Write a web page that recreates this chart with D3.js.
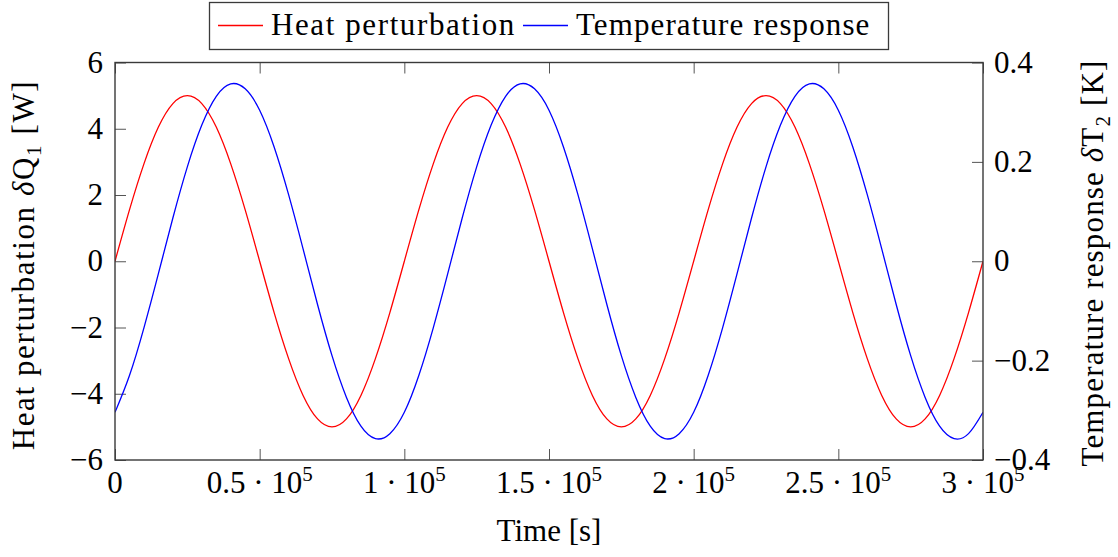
<!DOCTYPE html>
<html>
<head>
<meta charset="utf-8">
<script src="https://cdn.jsdelivr.net/npm/d3@7"></script>
<style>
  body { margin: 0; background: #fff; }
</style>
</head>
<body>
<div id="chart"></div>
<script>
// time samples [s]
const timeSec = [
  0, 5000, 10000, 15000, 20000, 25000, 30000, 35000, 40000, 45000,
  50000, 55000, 60000, 65000, 70000, 75000, 80000, 85000, 90000, 95000,
  100000, 105000, 110000, 115000, 120000, 125000, 130000, 135000, 140000, 145000,
  150000, 155000, 160000, 165000, 170000, 175000, 180000, 185000, 190000, 195000,
  200000, 205000, 210000, 215000, 220000, 225000, 230000, 235000, 240000, 245000,
  250000, 255000, 260000, 265000, 270000, 275000, 280000, 285000, 290000, 295000,
  300000
];

// heat perturbation dQ1 [W]
const heatW = [
  0, 1.55, 2.94, 4.05, 4.76, 5.00, 4.76, 4.05, 2.94, 1.55,
  0, -1.55, -2.94, -4.05, -4.76, -5.00, -4.76, -4.05, -2.94, -1.55,
  0, 1.55, 2.94, 4.05, 4.76, 5.00, 4.76, 4.05, 2.94, 1.55,
  0, -1.55, -2.94, -4.05, -4.76, -5.00, -4.76, -4.05, -2.94, -1.55,
  0, 1.55, 2.94, 4.05, 4.76, 5.00, 4.76, 4.05, 2.94, 1.55,
  0, -1.55, -2.94, -4.05, -4.76, -5.00, -4.76, -4.05, -2.94, -1.55,
  0
];

// temperature response dT2 [K]
const tempK = [
  -0.304, -0.230, -0.134, -0.025, 0.087, 0.190, 0.274, 0.332, 0.357, 0.347,
  0.304, 0.230, 0.134, 0.025, -0.087, -0.190, -0.274, -0.332, -0.357, -0.347,
  -0.304, -0.230, -0.134, -0.025, 0.087, 0.190, 0.274, 0.332, 0.357, 0.347,
  0.304, 0.230, 0.134, 0.025, -0.087, -0.190, -0.274, -0.332, -0.357, -0.347,
  -0.304, -0.230, -0.134, -0.025, 0.087, 0.190, 0.274, 0.332, 0.357, 0.347,
  0.304, 0.230, 0.134, 0.025, -0.087, -0.190, -0.274, -0.332, -0.357, -0.347,
  -0.304
];

const xTicks = [0, 50000, 100000, 150000, 200000, 250000, 300000];
const xTickMant = ["0", "0.5", "1", "1.5", "2", "2.5", "3"];
const leftTicks = [-6, -4, -2, 0, 2, 4, 6];
const rightTicks = [-0.4, -0.2, 0, 0.2, 0.4];
const seriesNames = ["Heat perturbation", "Temperature response"];

const width = 1118;
const height = 557;
const margin = { top: 62.5, right: 135, bottom: 97, left: 115 };
const innerW = width - margin.left - margin.right;
const innerH = height - margin.top - margin.bottom;
const fontSize = 31;
const fontFamily = "'Liberation Serif', 'DejaVu Serif', serif";
const frameColor = "#3a3a3a";

const svg = d3.select("#chart")
  .append("svg")
  .attr("width", width)
  .attr("height", height)
  .attr("font-family", fontFamily);

const x = d3.scaleLinear().domain([0, 300000]).range([margin.left, margin.left + innerW]);
const yL = d3.scaleLinear().domain([-6, 6]).range([margin.top + innerH, margin.top]);
const yR = d3.scaleLinear().domain([-0.4, 0.4]).range([margin.top + innerH, margin.top]);

// ticks (inward), drawn with d3 axes
const tickLen = 11;
function styleAxis(g) {
  g.select(".domain").remove();
  g.selectAll(".tick line").attr("stroke", "#555").attr("stroke-width", 1);
  g.selectAll(".tick text").remove();
}

svg.append("g")
  .attr("transform", `translate(0,${margin.top + innerH})`)
  .call(d3.axisBottom(x).tickValues(xTicks).tickSizeInner(-tickLen).tickSizeOuter(0))
  .call(styleAxis);
svg.append("g")
  .attr("transform", `translate(0,${margin.top})`)
  .call(d3.axisTop(x).tickValues(xTicks).tickSizeInner(-tickLen).tickSizeOuter(0))
  .call(styleAxis);
svg.append("g")
  .attr("transform", `translate(${margin.left},0)`)
  .call(d3.axisLeft(yL).tickValues(leftTicks).tickSizeInner(-tickLen).tickSizeOuter(0))
  .call(styleAxis);
svg.append("g")
  .attr("transform", `translate(${margin.left + innerW},0)`)
  .call(d3.axisRight(yR).tickValues(rightTicks).tickSizeInner(-tickLen).tickSizeOuter(0))
  .call(styleAxis);

// clip for curves
svg.append("clipPath").attr("id", "plotclip")
  .append("rect")
  .attr("x", margin.left).attr("y", margin.top)
  .attr("width", innerW).attr("height", innerH);

const redLine = d3.line()
  .x((d, i) => x(timeSec[i]))
  .y(d => yL(d))
  .curve(d3.curveNatural);
const blueLine = d3.line()
  .x((d, i) => x(timeSec[i]))
  .y(d => yR(d))
  .curve(d3.curveNatural);

const plot = svg.append("g").attr("clip-path", "url(#plotclip)");
plot.append("path").datum(heatW)
  .attr("d", redLine).attr("fill", "none")
  .attr("stroke", "#ff0000").attr("stroke-width", 1.3);
plot.append("path").datum(tempK)
  .attr("d", blueLine).attr("fill", "none")
  .attr("stroke", "#0000ff").attr("stroke-width", 1.3);

// frame
svg.append("rect")
  .attr("x", margin.left).attr("y", margin.top)
  .attr("width", innerW).attr("height", innerH)
  .attr("fill", "none").attr("stroke", frameColor).attr("stroke-width", 1.4);

function addText(sel) {
  return sel.append("text")
    .attr("font-family", fontFamily)
    .attr("font-size", fontSize)
    .attr("fill", "#000");
}

// x tick labels  m · 10^5
xTicks.forEach((t, i) => {
  const txt = addText(svg)
    .attr("x", x(t)).attr("y", margin.top + innerH + 33)
    .attr("text-anchor", "middle");
  if (t === 0) {
    txt.text("0");
  } else {
    txt.append("tspan").text(xTickMant[i] + " · 10");
    txt.append("tspan").attr("dy", -12).attr("font-size", 21).text("5");
  }
});

// left tick labels
leftTicks.forEach(v => {
  addText(svg)
    .attr("x", margin.left - 12).attr("y", yL(v) + 10)
    .attr("text-anchor", "end")
    .text(v < 0 ? "\u2212" + Math.abs(v) : String(v));
});

// right tick labels
rightTicks.forEach(v => {
  addText(svg)
    .attr("x", margin.left + innerW + 11).attr("y", yR(v) + 10)
    .attr("text-anchor", "start")
    .text(v < 0 ? "\u2212" + Math.abs(v) : String(v));
});

// axis labels
addText(svg)
  .attr("x", margin.left + innerW / 2).attr("y", 541)
  .attr("text-anchor", "middle")
  .text("Time [s]");

const yLab = addText(svg)
  .attr("transform", "translate(34,265) rotate(-90)")
  .attr("text-anchor", "middle")
  .attr("letter-spacing", 1.6);
yLab.append("tspan").text("Heat perturbation ");
yLab.append("tspan").attr("font-style", "italic").text("δ");
yLab.append("tspan").text("Q");
yLab.append("tspan").attr("dy", 7).attr("font-size", 21).text("1");
yLab.append("tspan").attr("dy", -7).text(" [W]");

const yRLab = addText(svg)
  .attr("transform", "translate(1103,263) rotate(-90)")
  .attr("text-anchor", "middle")
  .attr("letter-spacing", 1.15);
yRLab.append("tspan").text("Temperature response ");
yRLab.append("tspan").attr("font-style", "italic").text("δ");
yRLab.append("tspan").text("T");
yRLab.append("tspan").attr("dy", 7).attr("font-size", 21).text("2");
yRLab.append("tspan").attr("dy", -7).text(" [K]");

// legend
const legend = svg.append("g");
legend.append("rect")
  .attr("x", 209.5).attr("y", 2.5).attr("width", 679).attr("height", 47)
  .attr("fill", "#fff").attr("stroke", frameColor).attr("stroke-width", 1.3);
const legendItems = [
  { name: seriesNames[0], color: "#ff0000", x0: 218, spacing: 1.6 },
  { name: seriesNames[1], color: "#0000ff", x0: 523, spacing: 1.1 }
];
legendItems.forEach(d => {
  legend.append("line")
    .attr("x1", d.x0).attr("x2", d.x0 + 45)
    .attr("y1", 25.5).attr("y2", 25.5)
    .attr("stroke", d.color).attr("stroke-width", 1.3);
  addText(legend)
    .attr("x", d.x0 + 53).attr("y", 35)
    .attr("letter-spacing", d.spacing)
    .text(d.name);
});
</script>
</body>
</html>
